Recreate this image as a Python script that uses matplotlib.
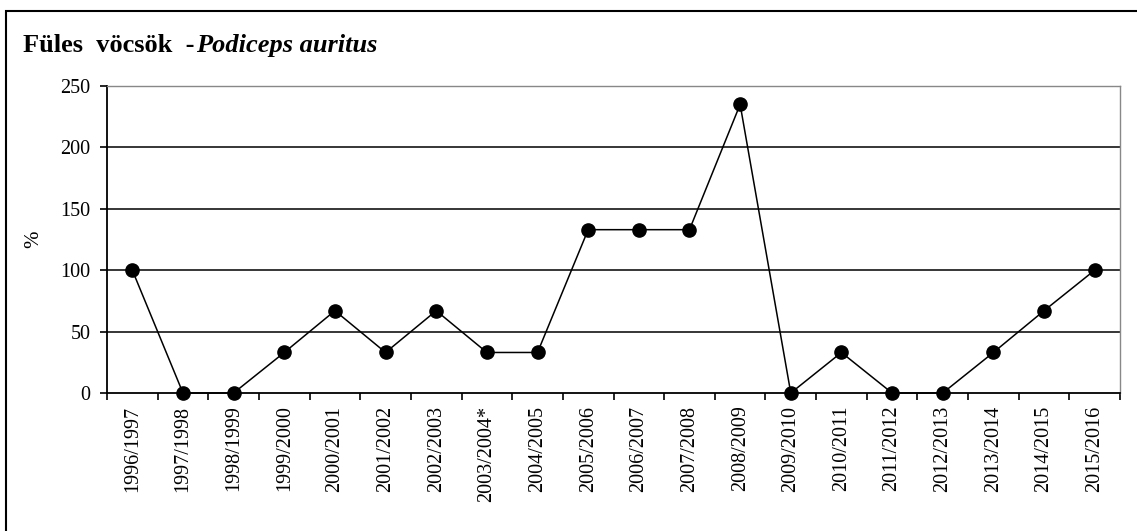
import matplotlib
matplotlib.use("Agg")
import matplotlib.pyplot as plt
from matplotlib.patches import Rectangle
from matplotlib.ticker import FixedLocator, NullFormatter

categories = ["1996/1997", "1997/1998", "1998/1999", "1999/2000", "2000/2001",
              "2001/2002", "2002/2003", "2003/2004*", "2004/2005", "2005/2006",
              "2006/2007", "2007/2008", "2008/2009", "2009/2010", "2010/2011",
              "2011/2012", "2012/2013", "2013/2014", "2014/2015", "2015/2016"]
values = [100, 0, 0, 33, 67, 33, 67, 33, 33, 133, 133, 133, 235, 0, 33, 0, 0, 33, 67, 100]
yticks = [0, 50, 100, 150, 200, 250]

plt.rcParams['font.family'] = ['Liberation Serif', 'DejaVu Serif']

W, H = 1137, 531
fig = plt.figure(figsize=(W / 100, H / 100), dpi=100)
fig.patch.set_facecolor("white")

# outer border (left and top visible)
fig.patches.append(Rectangle((5.5 / W, -0.1), 1.2, 1 - 10.5 / H + 0.1,
                             transform=fig.transFigure, fill=False,
                             edgecolor="black", linewidth=1.5, zorder=0))

ax = fig.add_axes([107 / W, 1 - 393 / H, (1120 - 107) / W, (393 - 86) / H])
n = len(categories)
x = list(range(n))
ax.plot(x, values, color="black", linewidth=1.1, marker="o", markersize=9.5,
        markerfacecolor="black", markeredgecolor="black", zorder=3, clip_on=False)

ax.set_xlim(-0.5, n - 0.5)
ax.set_ylim(0, 250)
ax.set_yticks(yticks)
ax.set_yticklabels([str(v) for v in yticks], fontsize=14.5)
for v in yticks[1:-1]:
    ax.axhline(v, color="black", linewidth=1.1, zorder=1)

ax.set_xticks(x)
ax.set_xticklabels(categories, rotation=90, fontsize=14.5)
ax.tick_params(axis="x", which="major", length=0, pad=9)
ax.xaxis.set_minor_locator(FixedLocator([i + 0.5 for i in range(-1, n)]))
ax.xaxis.set_minor_formatter(NullFormatter())
ax.tick_params(axis="x", which="minor", length=5, width=1.2, direction="out")
ax.tick_params(axis="y", length=5, width=1.2, direction="out", pad=7)

for side in ["left", "bottom"]:
    ax.spines[side].set_color("black")
    ax.spines[side].set_linewidth(1.3)
for side in ["top", "right"]:
    ax.spines[side].set_color("#888888")
    ax.spines[side].set_linewidth(1.0)

ax.set_ylabel("%", fontsize=15, labelpad=12)

fig.text(23 / W, 1 - 52 / H, "Füles  vöcsök  -", fontsize=19, fontweight="bold",
         ha="left", va="baseline")
r = fig.canvas.get_renderer()
tmp = fig.texts[-1].get_window_extent(renderer=r)
fig.text((tmp.x1 + 2) / W, 1 - 52 / H, "Podiceps auritus", fontsize=19,
         fontweight="bold", fontstyle="italic", ha="left", va="baseline")

fig.savefig("out.png", dpi=100, facecolor="white")
